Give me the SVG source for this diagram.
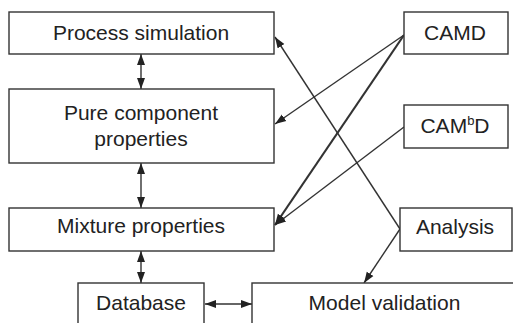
<svg xmlns="http://www.w3.org/2000/svg" width="513" height="323" viewBox="0 0 513 323">
<style>
.box{fill:#fff;stroke:#333;stroke-width:1.4}
.lbl{font-family:"Liberation Sans",Arial,sans-serif;font-size:21px;fill:#222;text-anchor:middle}
.ln{stroke:#333;stroke-width:1.4;fill:none}
.thick{stroke-width:2.2}
</style>
<defs>
<marker id="ah" markerUnits="userSpaceOnUse" markerWidth="12" markerHeight="10" viewBox="0 0 12 10" refX="11" refY="5" orient="auto-start-reverse">
<path d="M0,1 L11,5 L0,9 Z" fill="#222"/>
</marker>
</defs>
<g id="connectors">
<line class="ln" x1="141" y1="54" x2="141" y2="89" marker-start="url(#ah)" marker-end="url(#ah)"/>
<line class="ln" x1="141" y1="163" x2="141" y2="208" marker-start="url(#ah)" marker-end="url(#ah)"/>
<line class="ln" x1="141" y1="251" x2="141" y2="283" marker-start="url(#ah)" marker-end="url(#ah)"/>
<line class="ln" x1="205" y1="304" x2="252" y2="304" marker-start="url(#ah)" marker-end="url(#ah)"/>
<line class="ln" x1="404" y1="35" x2="275" y2="124" marker-end="url(#ah)"/>
<line class="ln thick" x1="404" y1="35" x2="275" y2="225" marker-end="url(#ah)"/>
<line class="ln" x1="404" y1="127" x2="275" y2="225" marker-end="url(#ah)"/>
<line class="ln" x1="400" y1="229" x2="275" y2="37" marker-end="url(#ah)"/>
<line class="ln" x1="400" y1="229" x2="364" y2="283" marker-end="url(#ah)"/>
</g>
<g id="process-simulation">
<rect class="box" x="9" y="12" width="265" height="42"/>
<text class="lbl" x="141" y="40">Process simulation</text>
</g>
<g id="pure-component-properties">
<rect class="box" x="9" y="89" width="265" height="74"/>
<text class="lbl" x="141" y="120">Pure component</text>
<text class="lbl" x="141" y="146">properties</text>
</g>
<g id="mixture-properties">
<rect class="box" x="9" y="208" width="265" height="43"/>
<text class="lbl" x="141" y="233">Mixture properties</text>
</g>
<g id="database">
<rect class="box" x="78" y="283" width="126" height="60"/>
<text class="lbl" x="141" y="310">Database</text>
</g>
<g id="model-validation">
<rect class="box" x="252" y="283" width="300" height="60"/>
<text class="lbl" x="384.5" y="310">Model validation</text>
</g>
<g id="camd">
<rect class="box" x="404" y="12" width="104" height="42"/>
<text class="lbl" x="455" y="40">CAMD</text>
</g>
<g id="cambd">
<rect class="box" x="404" y="105" width="104" height="43"/>
<text class="lbl" x="455" y="133">CAM<tspan font-size="13px" dy="-8">b</tspan><tspan dy="8">D</tspan></text>
</g>
<g id="analysis">
<rect class="box" x="400" y="208" width="112" height="43"/>
<text class="lbl" x="455" y="234">Analysis</text>
</g>
</svg>
